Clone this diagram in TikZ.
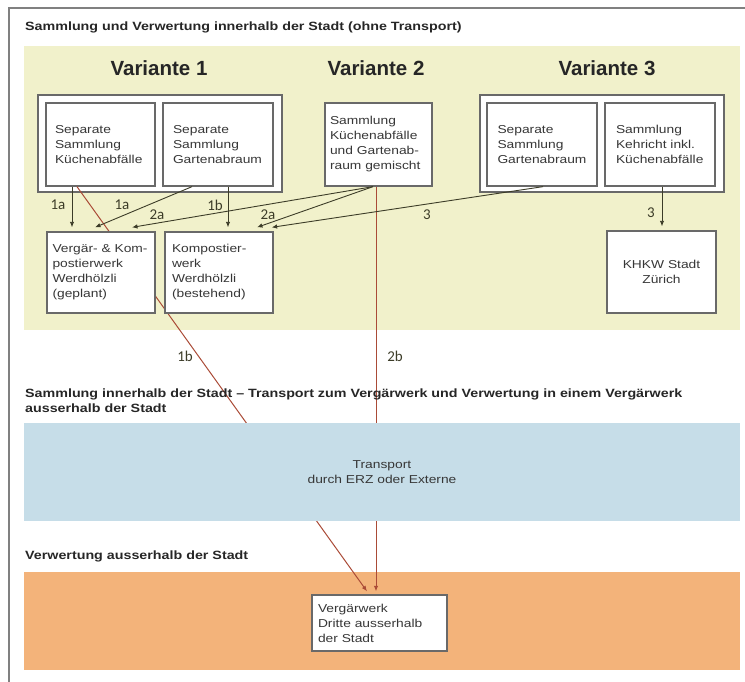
\documentclass[tikz,border=0pt]{standalone}
\usepackage{fontspec}
\setmainfont{Liberation Sans}
\newfontfamily\boxfont[FakeStretch=1.2,Ligatures=TeX]{Liberation Sans}
\newfontfamily\titelfont[FakeStretch=1.19,Ligatures=TeX]{Liberation Sans}
\newfontfamily\nummerfont{Carlito}
\usepackage{tikz}
\usetikzlibrary{arrows.meta}

\definecolor{gelb}{RGB}{241,241,203}
\definecolor{hellblau}{RGB}{198,221,232}
\definecolor{hellorange}{RGB}{243,179,122}
\definecolor{rahmen}{RGB}{105,105,105}
\definecolor{textgrau}{RGB}{55,55,55}
\definecolor{linie}{RGB}{60,60,40}
\definecolor{rot}{RGB}{170,75,55}

\begin{document}
\begin{tikzpicture}[
		x=1pt,
		y=-1pt,
		>={Latex[length=5.5pt,width=4.5pt]},
		kasten/.style={draw=rahmen, fill=white, line width=1.3pt, text=textgrau, align=left, inner ysep=0pt, font=\boxfont\fontsize{11.5}{15}\selectfont},
		gruppe/.style={draw=rahmen, fill=white, line width=1.3pt, minimum width=244pt, minimum height=97pt},
		band/.style={minimum width=716pt, inner sep=0pt},
		titel/.style={align=left, inner sep=0pt, text=black!85, font=\titelfont\bfseries\fontsize{12}{15}\selectfont},
		variante/.style={anchor=base, font=\bfseries\fontsize{20.5}{24}\selectfont, text=black!85},
		pfeil/.style={->, draw=linie, line width=0.9pt},
		rotpfeil/.style={->, draw=rot, line width=1pt},
		nummer/.style={font=\nummerfont\fontsize{15}{15}\selectfont, text=linie}
	]
	\useasboundingbox (0,0) rectangle (745,682);
	\draw[rahmen!85, line width=2pt] (9,682) -- (9,8) -- (745,8);

	% Baender
	\node[band, fill=gelb, minimum height=284pt] (gelbband) at (382,188) {};
	\node[band, fill=hellorange, minimum height=98pt] (orangeband) at (382,621) {};

	\node[titel, anchor=base west] (titel1) at (25,31) {Sammlung und Verwertung innerhalb der Stadt (ohne Transport)};
	\node[variante] (var1) at (159,76) {Variante 1};
	\node[variante] (var2) at (376,76) {Variante 2};
	\node[variante] (var3) at (607,76) {Variante 3};

	% Sammlung
	\node[gruppe] (gruppe1) at (160,143.5) {};
	\node[gruppe] (gruppe3) at (602,143.5) {};
	\node[kasten, minimum width=109pt, minimum height=83pt, text width=91pt] (kueche) at (100.5,144.5) {Separate\\Sammlung\\Küchenabfälle};
	\node[kasten, minimum width=110pt, minimum height=83pt, text width=90pt] (garten) at (218,144.5) {Separate\\Sammlung\\Gartenabraum};
	\node[kasten, minimum width=107pt, minimum height=83pt, text width=97pt] (gemischt) at (378.5,144.5) {Sammlung\\Küchenabfälle\\und Gartenab-\\raum gemischt};
	\node[kasten, minimum width=110pt, minimum height=83pt, text width=89pt] (garten3) at (542,144.5) {Separate\\Sammlung\\Gartenabraum};
	\node[kasten, minimum width=110pt, minimum height=83pt, text width=88pt] (kehricht) at (660,144.5) {Sammlung\\Kehricht inkl.\\Küchenabfälle};

	\node[kasten, minimum width=135pt, minimum height=56pt, text width=123pt] (vergaerwerk) at (379.5,623) {Vergärwerk\\Dritte ausserhalb\\der Stadt};

	% Transport nach aussen
	\draw[rotpfeil] ([xshift=-23.5pt]kueche.south) -- ([xshift=-12.5pt,yshift=3pt]vergaerwerk.north);
	\draw[rotpfeil] ([xshift=-2.5pt]gemischt.south) -- ([xshift=-3.5pt,yshift=3pt]vergaerwerk.north);
	\node[band, fill=hellblau, minimum height=98pt, font=\boxfont\fontsize{11.5}{15}\selectfont, text=textgrau, align=center] (transport) at (382,472) {Transport\\durch ERZ oder Externe};

	\node[titel, anchor=west] (titel2) at (25,400.5) {Sammlung innerhalb der Stadt – Transport zum Vergärwerk und Verwertung in einem Vergärwerk\\ausserhalb der Stadt};
	\node[titel, anchor=base west] (titel3) at (25,559) {Verwertung ausserhalb der Stadt};
	\node[nummer] (nr1b) at (185,356) {1b};
	\node[nummer] (nr2b) at (395,356) {2b};

	% Verwertung
	\node[kasten, minimum width=108pt, minimum height=81pt, text width=97pt] (vk) at (101,272.5) {Vergär- \& Kom-\\postierwerk\\Werdhölzli\\(geplant)};
	\node[kasten, minimum width=108pt, minimum height=81pt, text width=94pt] (kompost) at (219,272.5) {Kompostier-\\werk\\Werdhölzli\\(bestehend)};
	\node[kasten, minimum width=109pt, minimum height=82pt, text width=95pt, align=center] (khkw) at (661.5,272) {KHKW Stadt\\Zürich};

	\draw[pfeil] ([xshift=-28.5pt]kueche.south) -- ([xshift=-28.5pt,yshift=4pt]kueche.south |- vk.north);
	\draw[pfeil] ([xshift=-26pt]garten.south) -- ([xshift=-6pt,yshift=4pt]vk.north);
	\draw[pfeil] ([xshift=10pt]garten.south) -- ([xshift=10pt,yshift=4pt]garten.south |- kompost.north);
	\draw[pfeil] ([xshift=-5.5pt]gemischt.south) -- ([xshift=31pt,yshift=4pt]vk.north);
	\draw[pfeil] ([xshift=-5.5pt]gemischt.south) -- ([xshift=38pt,yshift=4pt]kompost.north);
	\draw[pfeil] ([xshift=1pt]garten3.south) -- ([xshift=-2pt,yshift=4pt]kompost.north east);
	\draw[pfeil] ([xshift=2pt]kehricht.south) -- ([xshift=2pt,yshift=4pt]kehricht.south |- khkw.north);

	\node[nummer] (nr1a) at (58,205) {1a};
	\node[nummer] (nr1a2) at (122,205) {1a};
	\node[nummer] (nr1b2) at (215,205) {1b};
	\node[nummer] (nr2a) at (157,215) {2a};
	\node[nummer] (nr2a2) at (268,215) {2a};
	\node[nummer] (nr3) at (427,215) {3};
	\node[nummer] (nr3b) at (651,213) {3};
\end{tikzpicture}
\end{document}
